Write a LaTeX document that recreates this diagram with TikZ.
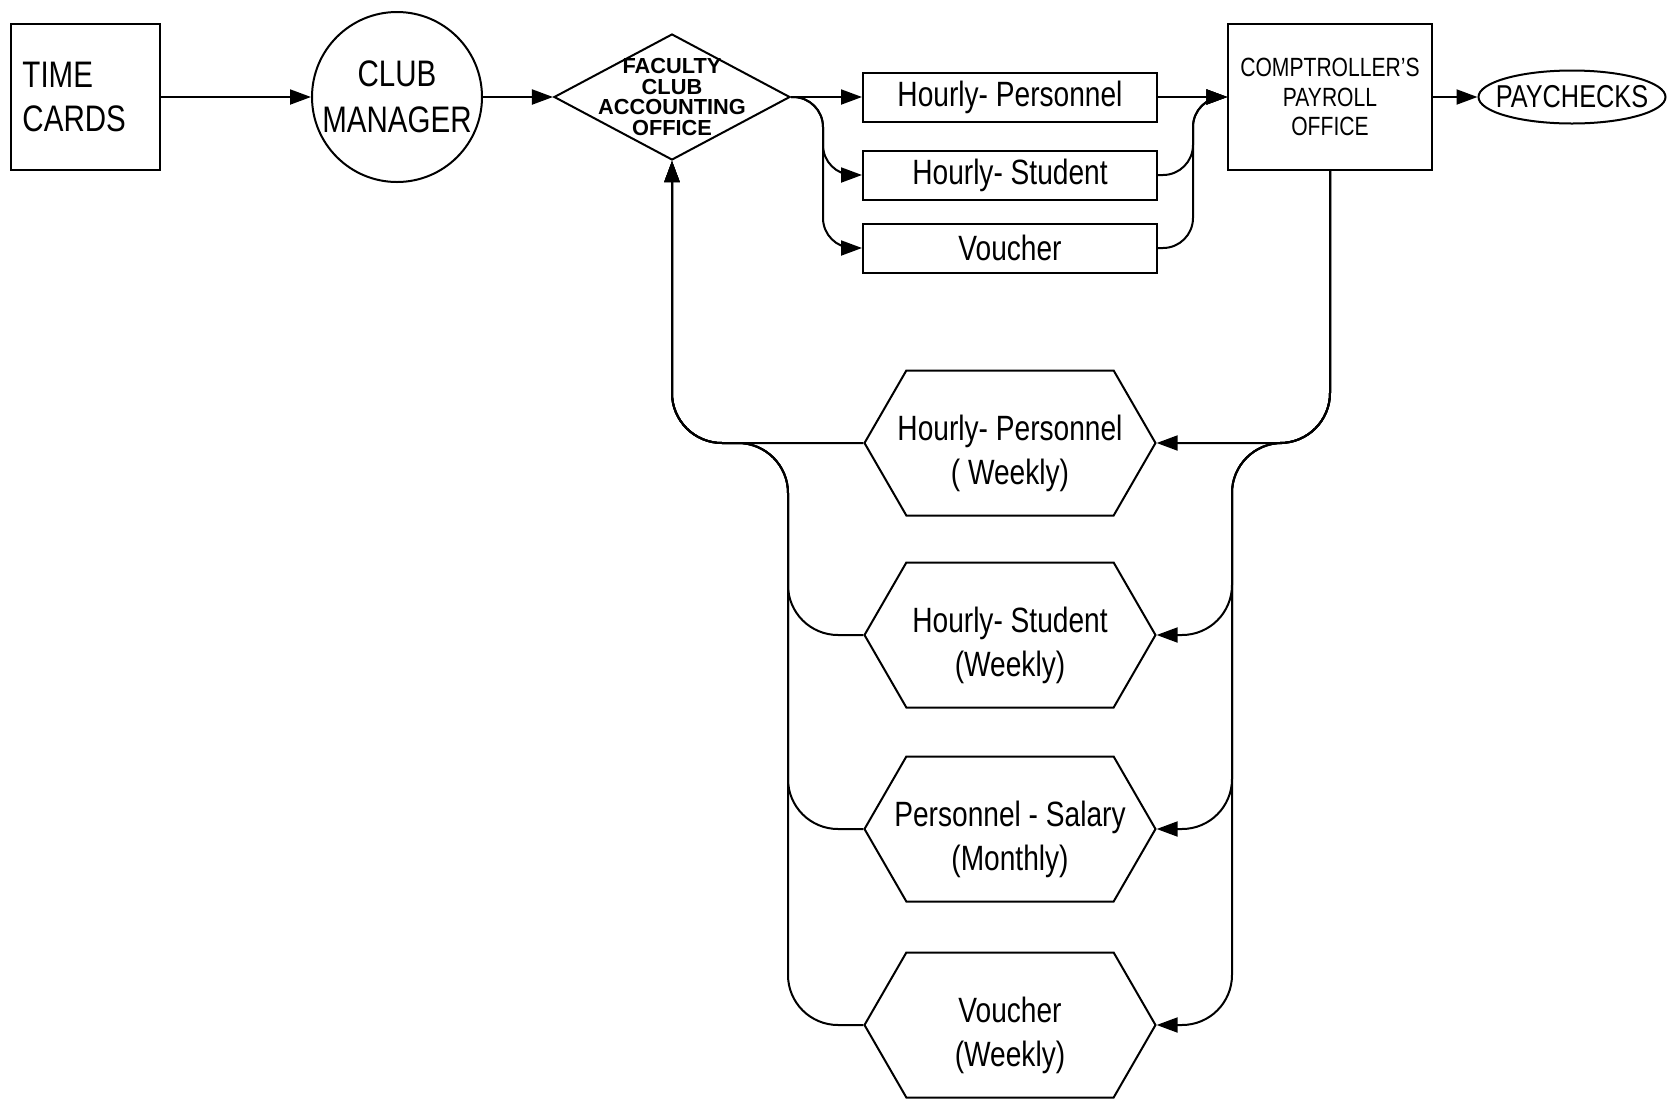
\documentclass[tikz,border=0pt]{standalone}
\usepackage{fontspec}
\setmainfont{Liberation Sans}[FakeStretch=0.8]
\newfontfamily\plainsans{Liberation Sans}
\usetikzlibrary{arrows.meta,shapes.geometric,shapes.symbols}

\tikzset{
  pen/.style={line width=0.02cm},
  flow/.style={pen, -{Triangle[length=0.21cm,width=0.15cm]}},
  card/.style={pen, draw, rectangle, inner xsep=0.12cm, inner ysep=0.04cm},
  slip/.style={card, hand, minimum width=2.94cm, minimum height=0.49cm},
  hexa/.style={pen, draw, signal, signal to=east and west, signal pointer angle=120,
    minimum width=2.91cm, minimum height=1.45cm, inner sep=0},
  hand/.style={font=\fontsize{10}{12.5}\selectfont, align=center},
  tag/.style={hand, yshift=-0.1cm},
}

\begin{document}
\begin{tikzpicture}
  \useasboundingbox (0,0) rectangle (16.70,-10.99);

  % Drawing time cards and club manager
  \node [card, minimum width=1.49cm, minimum height=1.46cm, text width=1.25cm, align=left,
         font=\fontsize{10.5}{12.5}\selectfont] (tc) at (0.85,-0.97) {TIME\\CARDS};%
  \node [pen, draw, circle, minimum size=1.70cm, inner sep=0, align=center,
         font=\fontsize{10.5}{13}\selectfont] (cm) at (3.97,-0.97) {CLUB\\MANAGER};%

  % Drawing accounting office
  \node [pen, draw, diamond, minimum width=2.36cm, minimum height=1.26cm, inner sep=0,
         label={[font=\plainsans\bfseries\fontsize{6.2}{5.8}\selectfont, align=center]center:{FACULTY\\CLUB\\ACCOUNTING\\OFFICE}}] (fca) at (6.72,-0.97) {};%

  % Drawing time sheets
  \node [slip] (hp) at (10.10,-0.97) {Hourly- Personnel};%
  \node [slip] (hs) at (10.10,-1.75) {Hourly- Student};%
  \node [slip] (vch) at (10.10,-2.48) {Voucher};%

  % Drawing payroll office and paychecks
  \node [card, minimum width=1.94cm, minimum height=1.46cm, align=center,
         font=\fontsize{7.5}{8.5}\selectfont] (comp) at (13.30,-0.97) {COMPTROLLER'S\\PAYROLL\\OFFICE};%
  \node [pen, draw, ellipse, minimum width=1.87cm, minimum height=0.53cm, inner sep=0,
         label={[font=\fontsize{9}{10}\selectfont]center:PAYCHECKS}] (pay) at (15.72,-0.97) {};%

  % Drawing payroll registers
  \node [hexa, label={[tag]center:{Hourly- Personnel\\( Weekly)}}] (wk1) at (10.10,-4.43) {};%
  \node [hexa, label={[tag]center:{Hourly- Student\\(Weekly)}}] (wk2) at (10.10,-6.35) {};%
  \node [hexa, label={[tag]center:{Personnel - Salary\\(Monthly)}}] (wk3) at (10.10,-8.29) {};%
  \node [hexa, label={[tag]center:{Voucher\\(Weekly)}}] (wk4) at (10.10,-10.25) {};%

  % Bus corners
  \coordinate (tbus) at (8.23,-0.97);%
  \coordinate (mbus) at (11.93,-0.97);%
  \coordinate (rbus) at (12.32,-4.43);%
  \coordinate (lbus) at (7.88,-4.43);%

  % Drawing main row
  \draw [flow] (tc) -- (cm);%
  \draw [flow] (cm) -- (fca);%
  \draw [flow] (fca.east) -- (hp.west);%
  \draw [flow] (hp.east) -- (comp.west);%
  \draw [flow] (comp) -- (pay);%

  % Drawing branches through the time sheets
  \foreach \b in {hs,vch}
    \draw [flow, rounded corners=0.3cm] (fca.east) -- (tbus) |- (\b.west);%
  \foreach \b in {hs,vch}
    \draw [flow, rounded corners=0.3cm] (\b.east) -| (mbus) -- (comp.west);%

  % Drawing registers loop
  \draw [flow, rounded corners=0.5cm] (comp.south) |- (wk1.east);%
  \foreach \h in {wk2,wk3,wk4}
    \draw [flow, rounded corners=0.5cm] (comp.south) |- (rbus) |- (\h.east);%
  \draw [flow, rounded corners=0.5cm] (wk1.west) -| (fca.south);%
  \foreach \h in {wk2,wk3,wk4}
    \draw [flow, rounded corners=0.5cm] (\h.west) -| (lbus) -| (fca.south);%
\end{tikzpicture}
\end{document}
